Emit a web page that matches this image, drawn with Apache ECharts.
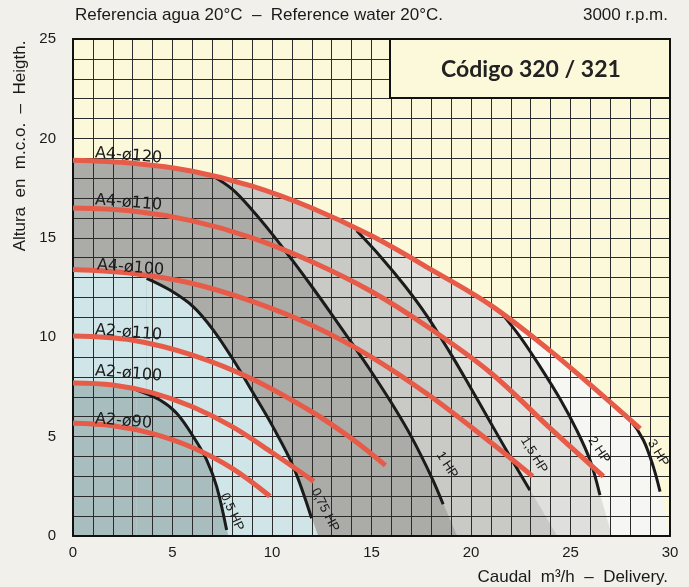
<!DOCTYPE html>
<html><head><meta charset="utf-8">
<script src="https://cdn.jsdelivr.net/npm/echarts@6/dist/echarts.min.js"></script>
<style>html,body{margin:0;padding:0;background:#f1f0ea}#c{width:689px;height:587px}</style>
</head><body><div id="c"></div>
<script>
// ---- data ----
const xTickLabels = [0, 5, 10, 15, 20, 25, 30];
const yTickLabels = [0, 5, 10, 15, 20, 25];

// impeller curves (Q m3/h, H m)
const a4_120 = [[0,18.9],[3,18.75],[6,18.35],[9,17.6],[12,16.5],[15,15.1],[18,13.4],[21,11.6],[24,9.3],[26,7.6],[28.5,5.4]];
const a4_110 = [[0,16.5],[3,16.35],[6,15.85],[9,15.0],[12,13.8],[15,12.3],[18,10.4],[21,8.2],[24,5.4],[26.65,3.0]];
const a4_100 = [[0,13.4],[3,13.2],[6,12.7],[9,11.8],[12,10.6],[15,9.0],[18,7.0],[21,4.7],[23.1,3.0]];
const a2_110 = [[0,10.06],[3,9.85],[6,9.1],[9,7.9],[12,6.25],[14,4.9],[15.7,3.55]];
const a2_100 = [[0,7.7],[2,7.6],[4,7.2],[6,6.5],[8,5.5],[10,4.2],[12.1,2.75]];
const a2_90  = [[0,5.67],[2,5.55],[4,5.15],[6,4.45],[8,3.4],[9.9,2.0]];
const impellerNames = ['A4-ø120','A4-ø110','A4-ø100','A2-ø110','A2-ø100','A2-ø90'];

// power curves
const hp05  = [[3.2,7.34],[4.37,6.84],[5.21,6.17],[6.05,4.99],[6.72,3.82],[7.22,2.48],[7.72,0.3]];
const hp075 = [[3.7,12.96],[4.87,12.37],[6.05,11.53],[7.05,10.36],[8.06,8.85],[9.06,7.18],[10.07,5.45],[11.07,3.49],[11.99,0.89]];
const hp1   = [[6.88,18.2],[8.0,17.45],[9.0,16.4],[10.0,15.2],[11.0,13.9],[12.0,12.55],[13.0,11.15],[14.0,9.72],[15.0,8.25],[16.0,6.7],[17.0,5.0],[18.0,3.0],[18.6,1.6]];
const hp15  = [[14.26,15.35],[15.5,14.0],[16.7,12.55],[17.8,11.05],[18.9,9.3],[19.9,7.6],[20.9,5.85],[21.9,4.1],[22.96,2.3]];
const hp2   = [[21.46,11.3],[22.46,10.03],[23.47,8.52],[24.47,6.9],[25.31,5.33],[25.98,3.82],[26.48,2.06]];
const hp3   = [[27.15,6.6],[27.99,5.84],[28.66,4.83],[29.16,3.49],[29.5,2.23]];
const powerNames = ['0,5 HP','0,75 HP','1 HP','1,5 HP','2 HP','3 HP'];

// ---- zones built from the curves ----
function zoneLeft(top, hp) {            // under the impeller curve, up to where the power curve starts
  return top.filter(p => p[0] < hp[0][0] - 0.3).concat([hp[0]]);
}
function zoneRight(hp) {                // under the power curve, continued to the axis
  const n = hp.length, a = hp[n-2], b = hp[n-1];
  const slope = (b[1]-a[1])/(b[0]-a[0]);
  return hp.concat([[Math.min(30, b[0] - b[1]/slope), 0]]);
}
const zoneDefs = [
  [a4_120, hp3, '#f6f6f3'],
  [a4_120, hp2, '#dfdfdc'],
  [a4_120, hp15, '#c9c9c6'],
  [a4_120, hp1, '#ababa8'],
  [a4_100, hp075, '#cfe5e7'],
  [a2_100, hp05, '#a7bdbe']
];

const SM = 0.35;
const series = [];
zoneDefs.forEach(([t,h,c]) => {
  [zoneLeft(t,h), zoneRight(h)].forEach(d => series.push({
    type:'line', data:d, smooth:SM, symbol:'none', silent:true, z:1,
    lineStyle:{width:0.8, color:c}, areaStyle:{color:c, opacity:1}
  }));
});
[a4_120,a4_110,a4_100,a2_110,a2_100,a2_90].forEach((d,i) => series.push({
  name: impellerNames[i], type:'line', data:d, smooth:SM, symbol:'none', z:5,
  lineStyle:{color:'#e65c48', width:5, cap:'butt'}
}));
[hp05,hp075,hp1,hp15,hp2,hp3].forEach((d,i) => series.push({
  name: powerNames[i], type:'line', data:d, smooth:SM, symbol:'none', z:4,
  lineStyle:{color:'#1b1b1b', width:3}
}));

const F = 'Liberation Sans, DejaVu Sans, sans-serif';
const chart = echarts.init(document.getElementById('c'), null, {renderer:'canvas'});
const gridLine = {show:true, lineStyle:{color:'#2b2b2b', width:1}};
const border = {show:true, onZero:false, lineStyle:{color:'#111', width:2}};

const impLabelPos = [[95,153],[95,200],[97,265],[95,330],[95,371],[95,419]];
const hpLabelPos = [[232,512,-1.15],[325,510,-1.1],[447,465,-1.0],[534,455,-1.02],[599,450,-0.98],[658,453,-1.03]];

const graphic = [
  {type:'rect', z:20, shape:{x:390,y:39,width:280,height:59}, style:{fill:'#fbf9da', stroke:'#111', lineWidth:2}},
  {type:'text', z:21, x:531, y:70, style:{text:'Código 320 / 321', font:'bold 23px Lato, sans-serif', fill:'#222', textAlign:'center', textVerticalAlign:'middle'}},
  {type:'text', z:21, x:75, y:15, style:{text:'Referencia agua 20°C  –  Reference water 20°C.', font:'17px '+F, fill:'#1a1a1a', textAlign:'left', textVerticalAlign:'middle'}},
  {type:'text', z:21, x:668, y:15, style:{text:'3000 r.p.m.', font:'17px '+F, fill:'#1a1a1a', textAlign:'right', textVerticalAlign:'middle'}},
  {type:'text', z:21, x:668, y:577, style:{text:'Caudal  m³/h  –  Delivery.', font:'17px '+F, fill:'#1a1a1a', textAlign:'right', textVerticalAlign:'middle'}},
  {type:'text', z:21, x:20, y:146, rotation:Math.PI/2, style:{text:'Altura  en  m.c.o.  –  Heigth.', font:'17px '+F, fill:'#1a1a1a', textAlign:'center', textVerticalAlign:'middle'}}
];
impellerNames.forEach((n,i) => graphic.push({type:'text', z:21, x:impLabelPos[i][0], y:impLabelPos[i][1], rotation:-0.08,
  style:{text:n, font:'16px DejaVu Sans, sans-serif', fill:'#1a1a1a', textAlign:'left', textVerticalAlign:'middle'}}));
powerNames.forEach((n,i) => graphic.push({type:'text', z:21, x:hpLabelPos[i][0], y:hpLabelPos[i][1], rotation:hpLabelPos[i][2],
  style:{text:n, font:'13px '+F, fill:'#1a1a1a', textAlign:'center', textVerticalAlign:'middle'}}));

const fmt = list => v => (Math.abs(v-Math.round(v))<1e-6 && list.includes(Math.round(v))) ? String(Math.round(v)) : '';

chart.setOption({
  animation:false,
  backgroundColor:'#f1f0ea',
  grid:{left:73, right:19, top:39, bottom:51, show:true, backgroundColor:'#fbf9da', borderWidth:0},
  xAxis:[
    {type:'value', min:0, max:30, interval:1, z:3, axisLine:border, axisTick:{show:false}, splitLine:gridLine,
     axisLabel:{formatter:fmt(xTickLabels), margin:9, color:'#1a1a1a', fontSize:15, fontFamily:F, showMinLabel:true, showMaxLabel:true, hideOverlap:false}},
    {type:'value', position:'top', min:0, max:30, interval:1, z:3, axisLine:border, axisTick:{show:false}, axisLabel:{show:false}, splitLine:{show:false}}
  ],
  yAxis:[
    {type:'value', min:0, max:25, interval:1, z:3, axisLine:border, axisTick:{show:false}, splitLine:gridLine,
     axisLabel:{formatter:fmt(yTickLabels), margin:17, color:'#1a1a1a', fontSize:15, fontFamily:F, showMinLabel:true, showMaxLabel:true, hideOverlap:false}},
    {type:'value', position:'right', min:0, max:25, interval:1, z:3, axisLine:border, axisTick:{show:false}, axisLabel:{show:false}, splitLine:{show:false}}
  ],
  series: series,
  graphic: graphic
});
</script></body></html>
